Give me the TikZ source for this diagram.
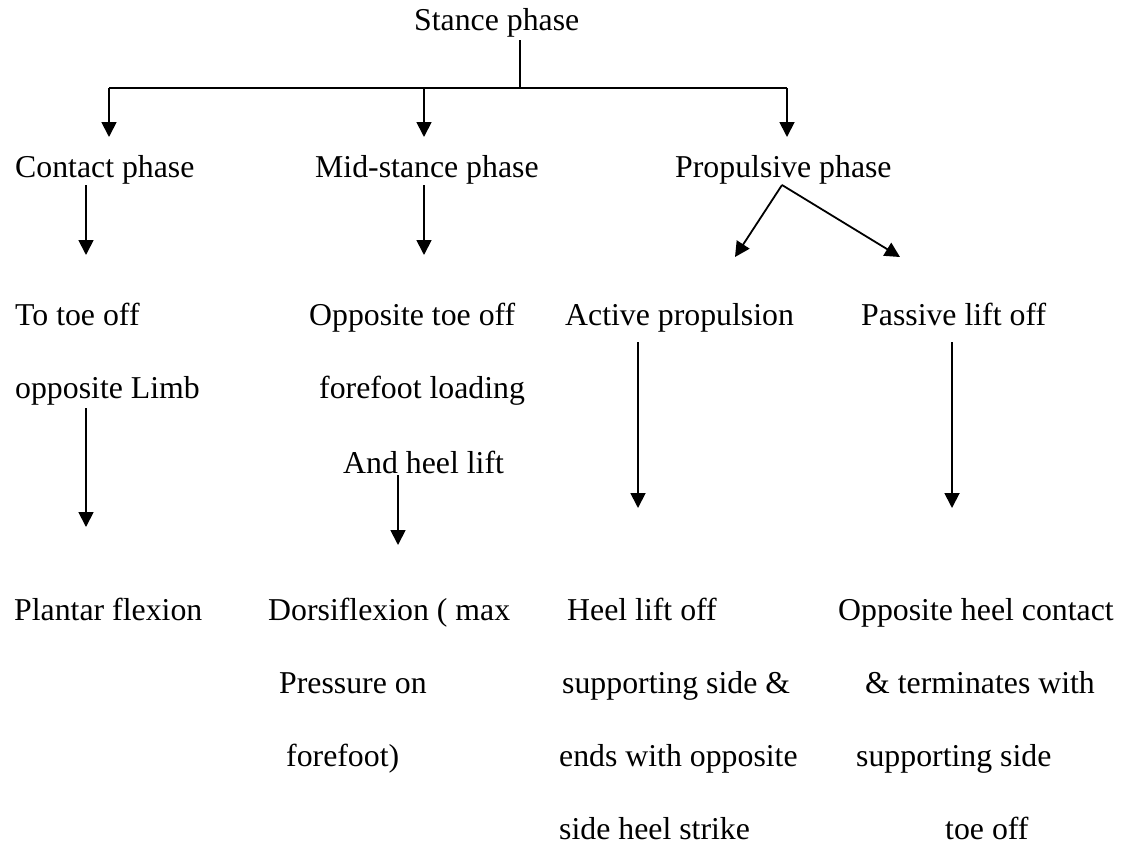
\documentclass[tikz,border=0pt]{standalone}
\usepackage{fontspec}
\setmainfont{Liberation Serif}
\usetikzlibrary{arrows.meta}
\begin{document}
\begin{tikzpicture}[x=1pt,y=-1pt,
  lbl/.style={anchor=base west, inner sep=0pt, font=\fontsize{31.8}{38}\selectfont},
  link/.style={line width=1.8pt, -{Triangle[length=15pt,width=15pt]}},
  plain/.style={line width=1.8pt}]
\useasboundingbox (0,0) rectangle (1126,846);

% top level
\node[lbl] (stance) at (414,30) {Stance phase};

% second level
\node[lbl] (contact) at (15,177) {Contact phase};
\node[lbl] (mid)     at (315,177) {Mid-stance phase};
\node[lbl] (prop)    at (675,177) {Propulsive phase};

% third level
\node[lbl] (toe)     at (15,325)  {To toe off};
\node[lbl] (limb)    at (15,398)  {opposite Limb};
\node[lbl] (opptoe)  at (309,325) {Opposite toe off};
\node[lbl] (load)    at (319,398) {forefoot loading};
\node[lbl] (heel)    at (343,473) {And heel lift};
\node[lbl] (active)  at (565,325) {Active propulsion};
\node[lbl] (passive) at (861,325) {Passive lift off};

% fourth level
\node[lbl] (plantar) at (14,620)  {Plantar flexion};
\node[lbl] (dorsi)   at (268,620) {Dorsiflexion ( max};
\node[lbl] (press)   at (279,693) {Pressure on};
\node[lbl] (fore)    at (286,766) {forefoot)};
\node[lbl] (hlo)     at (567,620) {Heel lift off};
\node[lbl] (sup)     at (562,693) {supporting side \&};
\node[lbl] (ends)    at (559,766) {ends with opposite};
\node[lbl] (strike)  at (559,839) {side heel strike};
\node[lbl] (ohc)     at (838,620) {Opposite heel contact};
\node[lbl] (term)    at (865,693) {\& terminates with};
\node[lbl] (sup2)    at (856,766) {supporting side};
\node[lbl] (toeoff)  at (945,839) {toe off};

% branch points and arrow ends
\coordinate (s0) at (520,40);
\coordinate (hub) at (520,88);
\coordinate (bl) at (109,88);
\coordinate (bm) at (424,88);
\coordinate (br) at (787,88);
\coordinate (tl) at (109,137);
\coordinate (tm) at (424,137);
\coordinate (tr) at (787,137);

\coordinate (c0) at (86,185);   \coordinate (c1) at (86,255);
\coordinate (m0) at (424,185);  \coordinate (m1) at (424,255);
\coordinate (p0) at (782,185);
\coordinate (pa) at (735,257);  \coordinate (pp) at (900,257);

\coordinate (l0) at (86,408);   \coordinate (l1) at (86,527);
\coordinate (h0) at (398,475);  \coordinate (h1) at (398,545);
\coordinate (a0) at (638,342);  \coordinate (a1) at (638,508);
\coordinate (q0) at (952,342);  \coordinate (q1) at (952,508);

% stance phase splits into three
\draw[plain] (s0) -- (hub);
\draw[plain] (bl) -- (br);
\draw[link] (bl) -- (tl);
\draw[link] (bm) -- (tm);
\draw[link] (br) -- (tr);

% second level to third level
\draw[link] (c0) -- (c1);
\draw[link] (m0) -- (m1);
\draw[link] (p0) -- (pa);
\draw[link] (p0) -- (pp);

% third level to fourth level
\draw[link] (l0) -- (l1);
\draw[link] (h0) -- (h1);
\draw[link] (a0) -- (a1);
\draw[link] (q0) -- (q1);
\end{tikzpicture}
\end{document}
